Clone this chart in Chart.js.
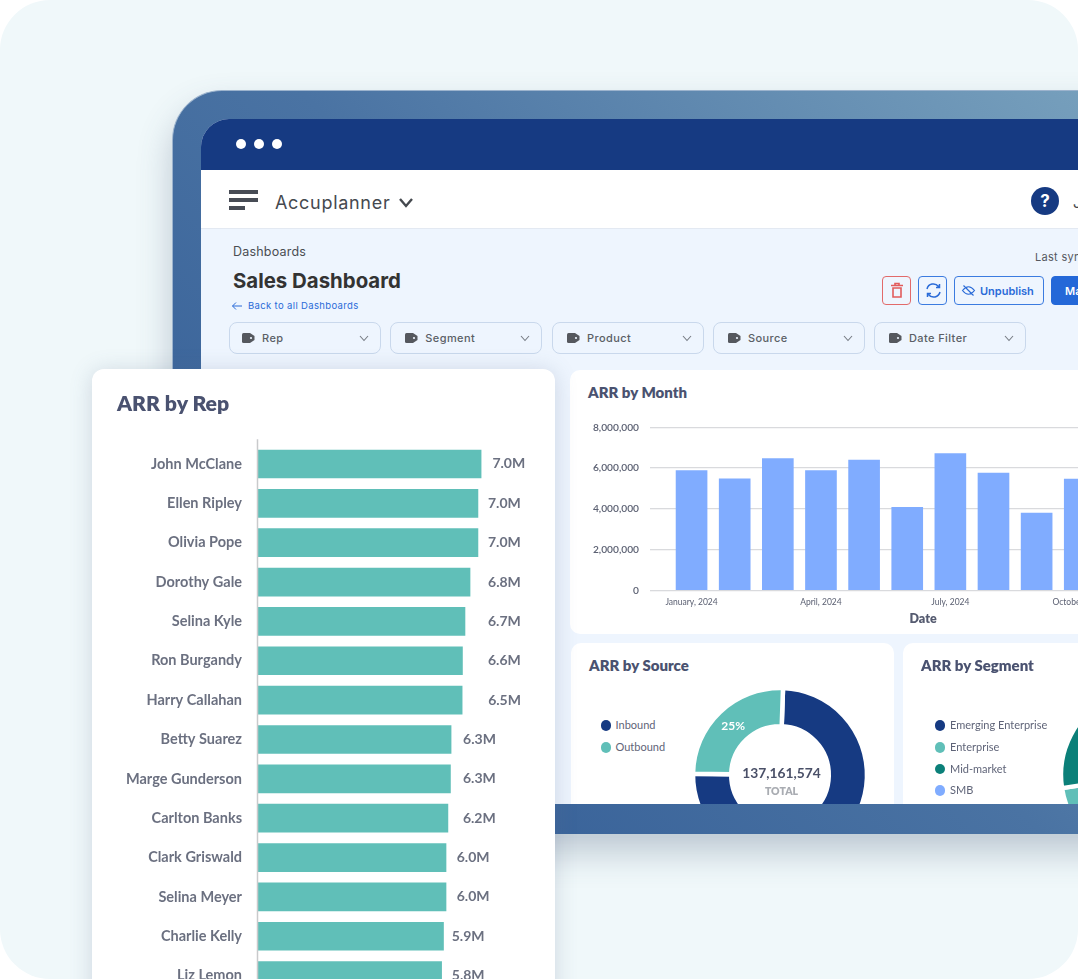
<!DOCTYPE html>
<html>
<head>
<meta charset="utf-8">
<title>Sales Dashboard</title>
<script src="https://cdn.jsdelivr.net/npm/chart.js@4"></script>
<style>
    * { box-sizing: border-box; }
    html, body { margin: 0; padding: 0; background: #fff; width: 1078px; height: 979px; overflow: hidden; }
    div, span { position: absolute; white-space: nowrap; }
    canvas { position: absolute; display: block; }
    svg { position: absolute; overflow: visible; }
    #pagina { left: 0; top: 0; width: 1078px; height: 979px; background: #f0f8fa; border-radius: 50px; overflow: hidden; font-family: Inter, sans-serif; }
    #moldura { left: 172px; top: 90px; width: 1000px; height: 744px; border-radius: 50px 50px 0 0; background: linear-gradient(45deg, #2f5994 0%, #4a73a3 50%, #7ba4bf 100%); border: 1px solid #9cb3cd; border-bottom: 0; box-shadow: 0 18px 34px rgba(70, 90, 120, .30); }
    #tela { left: 201px; top: 119px; width: 900px; height: 685px; border-radius: 28px 0 0 0; background: #eef5fe; overflow: hidden; }
    #barra { left: 0; top: 0; width: 900px; height: 51px; background: #163a82; }
    .ponto { width: 10px; height: 10px; top: 20px; background: #fff; border-radius: 50%; }
    #nav { left: 0; top: 51px; width: 900px; height: 59px; background: #fff; border-bottom: 1px solid #e3e9f2; }
    .traco { left: 28px; height: 4px; background: #474c55; }
    .filtro { top: 203px; width: 152px; height: 32px; border: 1.5px solid #c9d8ec; border-radius: 8px; }
    .filtro span { top: 8px; font-size: 11px; font-weight: 500; color: #5a5f66; letter-spacing: .4px; }
    .botao { top: 157px; height: 29px; border: 1.5px solid #3b7be0; border-radius: 4px; }
    .cartao { background: #fff; border-radius: 10px; }
    .titulo { font-family: Lato, sans-serif; font-weight: 800; color: #4a5270; font-size: 15px; line-height: 18px; }
    .legenda { font-family: Lato, sans-serif; font-size: 11px; color: #5f6478; line-height: 14px; }
    .bolinha { width: 10.5px; height: 10.5px; border-radius: 50%; }
    #cartaoRep { left: 92px; top: 369px; width: 463px; height: 660px; background: #fff; border-radius: 12px; box-shadow: 0 2px 22px rgba(80, 100, 130, .22); overflow: hidden; }
</style>
</head>
<body>
<div id="pagina">
    <div id="moldura"></div>
    <div id="tela">
        <div id="barra">
            <div class="ponto" style="left:34.5px"></div>
            <div class="ponto" style="left:52.5px"></div>
            <div class="ponto" style="left:70.5px"></div>
        </div>
        <div id="nav">
            <div class="traco" style="top:20px;width:29px"></div>
            <div class="traco" style="top:28px;width:29px"></div>
            <div class="traco" style="top:36px;width:16px"></div>
            <span style="left:74px;top:21.5px;font-size:18px;color:#45494f;letter-spacing:.7px">Accuplanner</span>
            <svg style="left:198px;top:27.5px" width="14" height="10"><path d="M1 1 L7 8 L13 1" fill="none" stroke="#45494f" stroke-width="2.4"/></svg>
            <div style="left:830px;top:17px;width:28px;height:28px;border-radius:50%;background:#163a82;color:#fff;font-weight:700;font-size:17px;line-height:28px;text-align:center">?</div>
            <span style="left:872px;top:23px;font-size:15px;color:#45494f">J</span>
        </div>
        <span style="left:32px;top:125px;font-size:12.5px;color:#4a4d52;letter-spacing:.2px">Dashboards</span>
        <span style="left:32px;top:148.5px;font-size:20.4px;font-weight:700;color:#333">Sales Dashboard</span>
        <svg style="left:30px;top:182px" width="12" height="10"><path d="M11 5 H1.5 M5 1.5 L1.5 5 L5 8.5" fill="none" stroke="#2a6bd8" stroke-width="1"/></svg>
        <span style="left:47px;top:181px;font-size:9.5px;color:#2a6bd8;letter-spacing:.35px">Back to all Dashboards</span>
        <span style="left:834px;top:131px;font-size:11px;color:#55585e;letter-spacing:.3px">Last sync</span>
        <div class="botao" style="left:681px;width:29px;border-color:#e26a6a"><svg style="left:8px;top:6px" width="13" height="16"><path d="M0 2.5 H12 M4 2.5 V.5 H8 V2.5 M2 5 H10 V14 H2 Z" fill="none" stroke="#e25c5c" stroke-width="1.6"/></svg></div>
        <div class="botao" style="left:717px;width:29px"><svg style="left:7px;top:6px" width="15" height="15"><path d="M1 6 A6.5 6.5 0 0 1 12.5 3.5 M13.5 1 V4.5 H10 M14 9 A6.5 6.5 0 0 1 2.5 11.5 M1.5 14 V10.5 H5" fill="none" stroke="#2a6bd8" stroke-width="1.5"/></svg></div>
        <div class="botao" style="left:753px;width:90px"><svg style="left:7px;top:8px" width="13" height="11"><path d="M.5 5.5 Q6.5 -2 12.5 5.5 Q6.5 13 .5 5.5 Z M1.5 .5 L11.5 10.5" fill="none" stroke="#2a6bd8" stroke-width="1.2"/></svg><span style="left:25px;top:7px;font-size:11px;font-weight:600;color:#2a6bd8">Unpublish</span></div>
        <div class="botao" style="left:850px;width:80px;background:#2468d8;border-color:#2468d8"><span style="left:13px;top:7px;font-size:11px;font-weight:600;color:#fff">Manage</span></div>
        <div id="filtros"></div>

        <div class="cartao" style="left:369px;top:251px;width:720px;height:264px"></div>
        <span class="titulo" style="left:387px;top:264px">ARR by Month</span>
        <canvas id="graficoMes" width="544" height="264" style="left:369px;top:251px"></canvas>
        <span style="left:708.5px;top:492px;font-family:Lato,sans-serif;font-weight:800;font-size:12.5px;color:#555b70">Date</span>

        <div class="cartao" style="left:370px;top:524px;width:323px;height:200px"></div>
        <span class="titulo" style="left:388px;top:537px">ARR by Source</span>
        <canvas id="graficoOrigem" width="190" height="190" style="left:484.3px;top:561.4px"></canvas>
        <div id="legendaOrigem"></div>

        <div class="cartao" style="left:702px;top:524px;width:323px;height:200px"></div>
        <span class="titulo" style="left:720px;top:537px">ARR by Segment</span>
        <canvas id="graficoSegmento" width="190" height="190" style="left:852px;top:561.4px"></canvas>
        <div id="legendaSegmento"></div>
    </div>
    <div id="cartaoRep">
        <span class="titulo" style="left:25px;top:21px;font-size:21.2px;line-height:26px">ARR by Rep</span>
        <canvas id="graficoRep" width="463" height="651" style="left:0;top:0"></canvas>
    </div>
</div>

<script>
// Dados
const repNames = ['John McClane', 'Ellen Ripley', 'Olivia Pope', 'Dorothy Gale', 'Selina Kyle', 'Ron Burgandy', 'Harry Callahan', 'Betty Suarez', 'Marge Gunderson', 'Carlton Banks', 'Clark Griswald', 'Selina Meyer', 'Charlie Kelly', 'Liz Lemon'];
const repValues = [7.06, 6.96, 6.96, 6.71, 6.55, 6.47, 6.46, 6.11, 6.09, 6.01, 5.95, 5.95, 5.87, 5.81];
const repLabels = ['7.0M', '7.0M', '7.0M', '6.8M', '6.7M', '6.6M', '6.5M', '6.3M', '6.3M', '6.2M', '6.0M', '6.0M', '5.9M', '5.8M'];

const months = ['January, 2024', 'February, 2024', 'March, 2024', 'April, 2024', 'May, 2024', 'June, 2024', 'July, 2024', 'August, 2024', 'September, 2024', 'October, 2024'];
const monthValues = [5880000, 5470000, 6470000, 5880000, 6390000, 4070000, 6710000, 5750000, 3790000, 5460000];
const monthTicks = [0, 2000000, 4000000, 6000000, 8000000];

const sourceNames = ['Inbound', 'Outbound'];
const sourceValues = [102400000, 34761574];

const segmentNames = ['Emerging Enterprise', 'Enterprise', 'Mid-market', 'SMB'];
const segmentValues = [65000000, 33800000, 27400000, 10961574];

const filterNames = ['Rep', 'Segment', 'Product', 'Source', 'Date Filter'];

// Cores
const navy = '#163a82';
const teal = '#60bfb8';
const darkTeal = '#0b8079';
const lightBlue = '#80acff';
const sourceColors = [navy, teal];
const segmentColors = [navy, teal, darkTeal, lightBlue];
const tickColor = '#5b6072';

// Filtros
const filterLefts = [28, 189.3, 351, 512, 673];
let htmlFiltros = '';
for (let i = 0; i < filterNames.length; i++) {
    const recuo = i === 0 ? 0 : 2;
    htmlFiltros += `<div class="filtro" style="left:${filterLefts[i]}px">
        <svg style="left:${12 + recuo}px;top:10px" width="13" height="10"><path d="M1.5 0 H8 L12.5 3 V7 L8 10 H1.5 Q0 10 0 8.5 V1.5 Q0 0 1.5 0 Z" fill="#55585e"/><circle cx="9" cy="5" r="1.1" fill="#eef5fe"/></svg>
        <span style="left:${32 + recuo}px">${filterNames[i]}</span>
        <svg style="left:129px;top:12px" width="10" height="7"><path d="M1 1 L5 5.5 L9 1" fill="none" stroke="#777c84" stroke-width="1.1"/></svg>
    </div>`;
}
document.getElementById('filtros').innerHTML = htmlFiltros;

// Legendas dos graficos de rosca
function montarLegenda(id, nomes, cores, left, textLeft) {
    const tops = [601, 623, 644.5, 666];
    let html = '';
    for (let i = 0; i < nomes.length; i++) {
        html += `<div class="bolinha" style="left:${left}px;top:${tops[i]}px;background:${cores[i]}"></div>`;
        html += `<span class="legenda" style="left:${textLeft}px;top:${tops[i] - 2}px">${nomes[i]}</span>`;
    }
    document.getElementById(id).innerHTML = html;
}
montarLegenda('legendaOrigem', sourceNames, sourceColors, 399.5, 414.5);
montarLegenda('legendaSegmento', segmentNames, segmentColors, 733.5, 749);

Chart.defaults.font.family = 'Lato, sans-serif';
Chart.defaults.animation = false;

// Textos e linha do eixo do grafico de representantes
const pluginRep = {
    id: 'pluginRep',
    afterDatasetsDraw(chart) {
        const ctx = chart.ctx;
        const pads = [11.3, 10, 10, 18, 23, 25.5, 26, 12, 12.5, 15, 10.7, 10.7, 8.2, 10.2];
        const area = chart.chartArea;
        ctx.save();
        ctx.strokeStyle = '#c9cacc';
        ctx.lineWidth = 1.5;
        ctx.beginPath();
        ctx.moveTo(area.left - 0.5, area.top - 5);
        ctx.lineTo(area.left - 0.5, area.bottom);
        ctx.stroke();
        ctx.font = 'bold 14px Lato, sans-serif';
        ctx.fillStyle = '#6b7080';
        ctx.textBaseline = 'middle';
        chart.getDatasetMeta(0).data.forEach(function (barra, i) {
            ctx.fillText(repLabels[i], barra.x + pads[i], barra.y);
        });
        ctx.restore();
    }
};

const configRep = {
    type: 'bar',
    data: {
        labels: repNames,
        datasets: [{ data: repValues, backgroundColor: teal, barThickness: 28 }]
    },
    options: {
        indexAxis: 'y',
        responsive: false,
        layout: { padding: { top: 75.3, right: 12.6, bottom: 3, left: 0 } },
        plugins: { legend: { display: false }, tooltip: { enabled: false } },
        scales: {
            x: { display: false, min: 0, max: 9 },
            y: {
                afterFit: function (scale) { scale.width = 166; },
                grid: { display: false, drawTicks: false },
                border: { display: false },
                ticks: { autoSkip: false, padding: 16, color: '#6b7080', font: { size: 14.5, weight: 'bold' } }
            }
        }
    },
    plugins: [pluginRep]
};
new Chart(document.getElementById('graficoRep'), configRep);

const configMes = {
    type: 'bar',
    data: {
        labels: months,
        datasets: [{ data: monthValues, backgroundColor: lightBlue, barThickness: 31 }]
    },
    options: {
        responsive: false,
        layout: { padding: { top: 57.3, right: 0, bottom: 0, left: 0 } },
        plugins: { legend: { display: false }, tooltip: { enabled: false } },
        scales: {
            x: {
                afterFit: function (scale) { scale.height = 43.7; },
                grid: { display: false, drawTicks: false },
                border: { display: false },
                ticks: {
                    autoSkip: false,
                    maxRotation: 0,
                    padding: 7,
                    color: tickColor,
                    font: { size: 8.5 },
                    callback: function (value, index) { return index % 3 === 0 ? months[index] : ''; }
                }
            },
            y: {
                min: 0,
                max: 8000000,
                afterFit: function (scale) { scale.width = 100; },
                afterBuildTicks: function (scale) { scale.ticks = monthTicks.map(function (v) { return { value: v }; }); },
                grid: { color: '#d9dadd', lineWidth: 1.3, tickLength: 20 },
                border: { display: false },
                ticks: {
                    padding: 11,
                    color: tickColor,
                    font: { size: 10.2, weight: '600' },
                    callback: function (value) { return value.toLocaleString('en-US'); }
                }
            }
        }
    }
};
new Chart(document.getElementById('graficoMes'), configMes);

// Porcentagem e total no grafico de origem
const pluginOrigem = {
    id: 'pluginOrigem',
    afterDatasetsDraw(chart) {
        const ctx = chart.ctx;
        const meta = chart.getDatasetMeta(0);
        const arco = meta.data[1];
        const total = sourceValues[0] + sourceValues[1];
        const centro = arco.tooltipPosition();
        ctx.save();
        ctx.textAlign = 'center';
        ctx.textBaseline = 'middle';
        ctx.fillStyle = '#fff';
        ctx.font = 'bold 12px Lato, sans-serif';
        ctx.fillText(Math.round(sourceValues[1] / total * 100) + '%', centro.x, centro.y);
        ctx.fillStyle = '#4a5068';
        ctx.font = 'bold 13.8px Lato, sans-serif';
        ctx.fillText(total.toLocaleString('en-US'), arco.x + 1.5, arco.y - 1);
        ctx.fillStyle = '#a9acb2';
        ctx.font = '800 10.5px Lato, sans-serif';
        ctx.fillText('TOTAL', arco.x + 1.5, arco.y + 16.5);
        ctx.restore();
    }
};

function configRosca(nomes, valores, cores, plugins) {
    return {
        type: 'doughnut',
        data: {
            labels: nomes,
            datasets: [{ data: valores, backgroundColor: cores, borderColor: '#fff', borderWidth: 4.5 }]
        },
        options: {
            responsive: false,
            radius: 87,
            cutout: 52,
            rotation: 2,
            layout: { padding: 0 },
            plugins: { legend: { display: false }, tooltip: { enabled: false } }
        },
        plugins: plugins
    };
}
new Chart(document.getElementById('graficoOrigem'), configRosca(sourceNames, sourceValues, sourceColors, [pluginOrigem]));
new Chart(document.getElementById('graficoSegmento'), configRosca(segmentNames, segmentValues, segmentColors, []));
</script>
</body>
</html>
